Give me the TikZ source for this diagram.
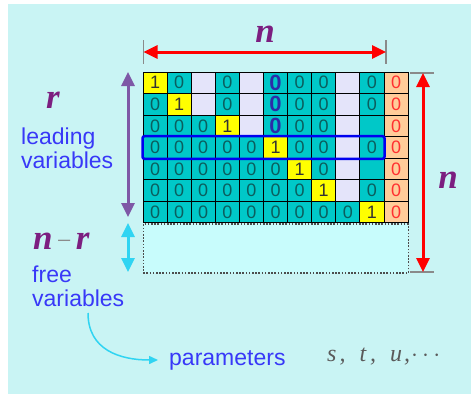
\documentclass[tikz,border=0pt]{standalone}
\usepackage{fontspec}
\setmainfont{Liberation Sans}
\newfontfamily\varfont{Liberation Serif}
\usetikzlibrary{arrows.meta}

\definecolor{bgcyan}{HTML}{C9F4F4}
\definecolor{cellcyan}{HTML}{00C8C8}
\definecolor{cellyel}{HTML}{FFFF00}
\definecolor{celllav}{HTML}{E4E4FA}
\definecolor{cellorg}{HTML}{FFCC99}
\definecolor{zerotxt}{HTML}{0B5E5E}
\definecolor{bigzero}{HTML}{2C2CA8}
\definecolor{redzero}{HTML}{FF3030}
\definecolor{dimred}{HTML}{FF0000}
\definecolor{purplearr}{HTML}{7E58A6}
\definecolor{cyanarr}{HTML}{30D4F2}
\definecolor{labelblue}{HTML}{3838F8}
\definecolor{varpurple}{HTML}{7C1E80}
\definecolor{freefill}{HTML}{C8FCFC}
\definecolor{paramgray}{HTML}{5A5A5A}
\definecolor{tickgray}{HTML}{8A8A8A}
\definecolor{hlblue}{HTML}{0000F0}

\tikzset{
  cell/.style={draw=black, line width=1pt, minimum width=24.1pt, minimum height=21.57pt,
    inner sep=0pt, font=\fontsize{18}{18}\selectfont, text=zerotxt},
  cellC/.style={cell, fill=cellcyan, node contents={0}},
  cellY/.style={cell, fill=cellyel, text=black!80, node contents={1}},
  cellL/.style={cell, fill=celllav, node contents={}},
  cellE/.style={cell, fill=cellcyan, node contents={}},
  cellB/.style={cell, fill=cellcyan, text=bigzero, font=\bfseries\fontsize{22}{22}\selectfont, node contents={0}},
  cellO/.style={cell, fill=cellorg, text=redzero, node contents={0}},
  freebox/.style={draw=black!70, line width=1.4pt, dash pattern=on 1.6pt off 1.6pt, fill=freefill, inner sep=0pt},
  hlbox/.style={draw=hlblue, line width=2.5pt, rounded corners=2pt},
  tickline/.style={draw=tickgray, line width=1.5pt},
  tipbig/.tip={Triangle[length=14pt,width=13pt]},
  dimarrow/.style={draw=dimred, line width=3pt, tipbig-tipbig},
  rarrow/.style={draw=purplearr, line width=3pt, tipbig-tipbig},
  frarrow/.style={draw=cyanarr, line width=3pt, tipbig-tipbig},
  curvearrow/.style={draw=cyanarr, line width=1.5pt, -{Triangle[length=9pt,width=8pt]}},
  varlabel/.style={text=varpurple, inner sep=0pt, font=\varfont\bfseries\itshape\fontsize{35}{35}\selectfont},
  bluetxt/.style={text=labelblue, inner sep=0pt, align=left, font=\fontsize{23}{24}\selectfont},
}

\begin{document}
\begin{tikzpicture}[x=1pt,y=-1pt]
  \useasboundingbox (0,0) rectangle (471,394);
  \fill[white] (0,0) rectangle (471,394);
  \fill[bgcyan] (8,4) rectangle (471,394);

  % coefficient matrix in reduced row echelon form
  \foreach \row [count=\i] in {
      {Y,C,L,C,L,B,C,C,L,C,O},
      {C,Y,L,C,L,B,C,C,L,C,O},
      {C,C,C,Y,L,B,C,C,L,E,O},
      {C,C,C,C,C,Y,C,C,L,C,O},
      {C,C,C,C,C,C,Y,C,L,E,O},
      {C,C,C,C,C,C,C,Y,L,C,O},
      {C,C,C,C,C,C,C,C,C,Y,O}} {
    \foreach \t [count=\j] in \row {
      \node[cell\t, name=c-\i-\j, at={({143+(\j-0.5)*24.1},{72+(\i-0.5)*21.57})}];
    }
  }
  \draw[hlbox] (c-4-1.north west) rectangle (c-4-10.south east);

  % zero rows below
  \node[freebox, anchor=north west, minimum width=265pt, minimum height=49pt] (free) at (c-7-1.south west) {};

  % width arrow
  \coordinate (tickL) at (143.5,52);
  \coordinate (tickR) at (386,52);
  \draw[tickline] ([yshift=12pt]tickL) -- ([yshift=-12pt]tickL);
  \draw[tickline] ([yshift=12pt]tickR) -- ([yshift=-12pt]tickR);
  \draw[dimarrow] (tickL) -- (tickR);
  \node[varlabel] (ntop) at (265,34) {n};

  % height arrow
  \coordinate (tickT) at (423,73);
  \coordinate (tickB) at (423,272);
  \draw[tickline] ([xshift=-13pt]tickT) -- ([xshift=11pt]tickT);
  \draw[tickline] ([xshift=-13pt]tickB) -- ([xshift=11pt]tickB);
  \draw[dimarrow] (tickT) -- (tickB);
  \node[varlabel] (nright) at (448,180) {n};

  % leading variables
  \coordinate (rTop) at (128,72);
  \coordinate (rBot) at (128,217);
  \draw[rarrow] (rTop) -- (rBot);
  \node[varlabel] (rlab) at (53,100) {r};
  \node[bluetxt, anchor=west] (lead) at (21,148) {leading\\variables};

  % free variables
  \coordinate (fTop) at (128,223);
  \coordinate (fBot) at (128,272);
  \draw[frarrow] (fTop) -- (fBot);
  \node[varlabel, anchor=west] (nr) at (33,241) {n{\color{paramgray!70}\mdseries\upshape\fontsize{26}{26}\selectfont\,−\,}r};
  \node[bluetxt, anchor=west] (fv) at (32,286) {free\\variables};

  % parameters
  \node[bluetxt, anchor=west] (params) at (169,360) {parameters};
  \node[text=paramgray, anchor=west, inner sep=0pt, font=\varfont\itshape\fontsize{24}{24}\selectfont] (stu) at (327,357)
    {s\hspace{3pt},\hspace{14pt}t\hspace{4pt},\hspace{14pt}u\hspace{2pt},\hspace{1pt}$\cdots$};
  \coordinate (cvStart) at (88,313);
  \draw[curvearrow] (cvStart) .. controls (88,350) and (120,360) .. ([xshift=-11pt]params.west);
\end{tikzpicture}
\end{document}
